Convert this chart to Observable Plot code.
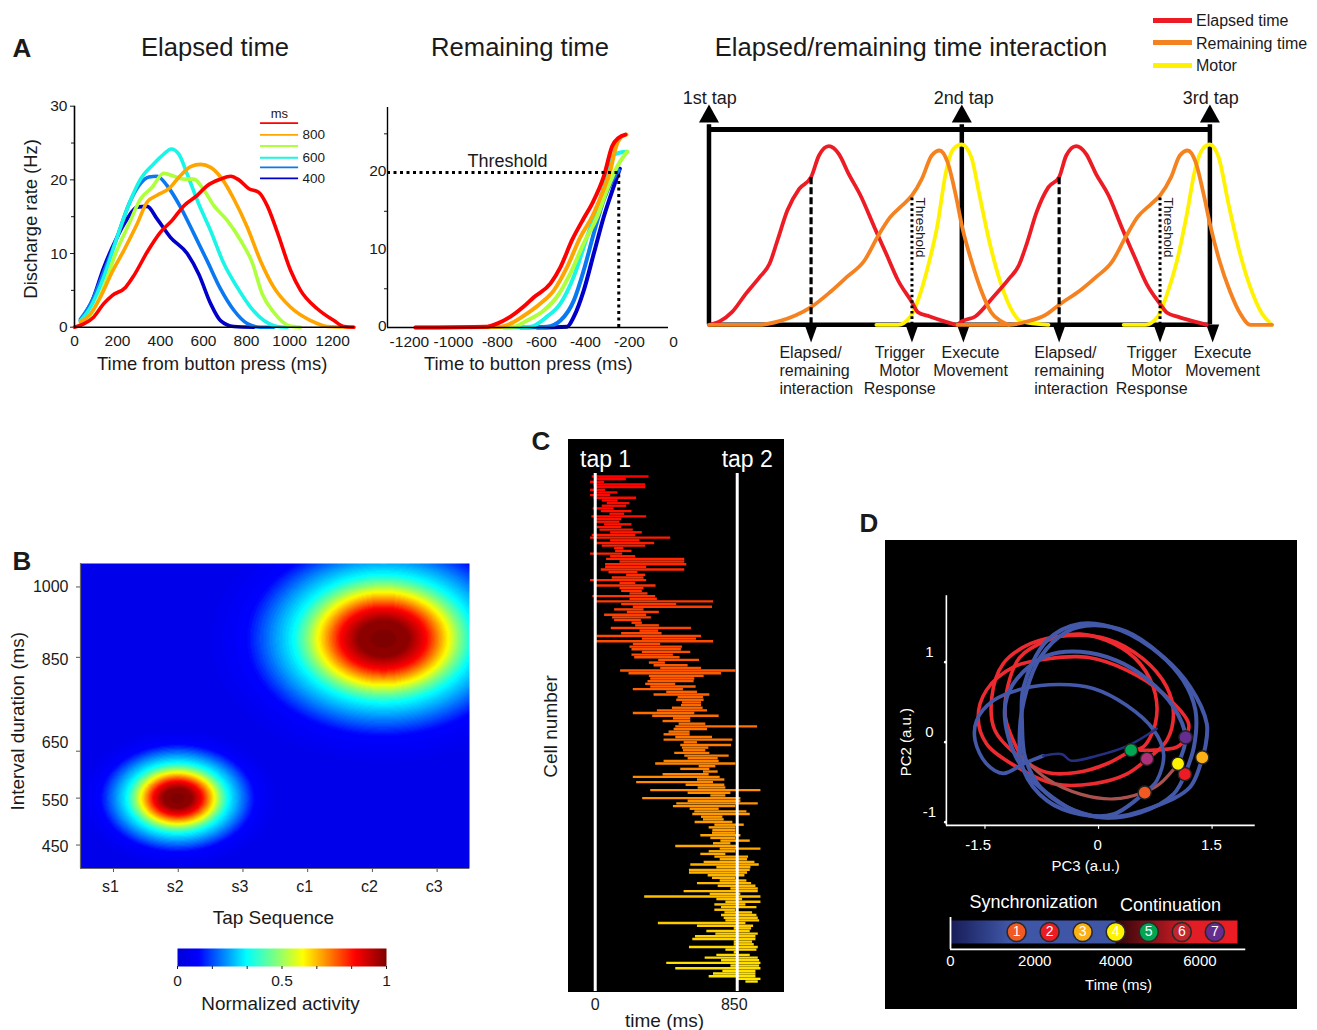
<!DOCTYPE html>
<html><head><meta charset="utf-8">
<script src="https://cdn.jsdelivr.net/npm/d3@7"></script>
<script src="https://cdn.jsdelivr.net/npm/@observablehq/plot@0.6"></script>
<style>
html,body{margin:0;padding:0;background:#fff}
#root{position:relative;width:1317px;height:1030px;overflow:hidden;font-family:"Liberation Sans",Arial,sans-serif;color:#1a1a1a}
.t{position:absolute;white-space:nowrap;transform:translate(-50%,-50%)}
.l{position:absolute;white-space:nowrap;transform:translateY(-50%)}
</style></head><body><div id="root"></div>
<script>
// ---------- Panel A, elapsed time: [ms, Hz]
const elapsedRed=[[0,0],[43,.45],[90,1.4],[136,3.2],[175,4.3],[237,5.4],[276,7],[338,10.2],[400,12.9],[454,14.5],[509,16.5],[571,17.9],[617,19.2],[679,20.1],[726,20.5],[764,20],[811,18.8],[857,18.3],[896,16.5],[943,12.9],[1005,7.7],[1051,5],[1129,2.5],[1206,.9],[1253,.1],[1299,0]];
const elapsedOrange=[[28,.7],[74,1.8],[121,4.1],[175,7.5],[229,10.4],[291,14],[338,17],[384,17.9],[439,18.8],[493,20.6],[540,21.8],[586,22.1],[633,21.7],[687,20.1],[741,17.4],[803,13.6],[865,9],[927,5.4],[1005,2.7],[1098,.9],[1175,.1],[1299,0]];
const elapsedGreen=[[28,.7],[82,2],[136,5.4],[191,10],[253,14],[307,17.4],[361,19],[415,20.9],[462,20.5],[509,20.1],[555,20.1],[602,18.6],[648,16.5],[710,14.5],[772,11.8],[826,8.8],[873,4.5],[927,2],[997,.2],[1051,0]];
const elapsedCyan=[[28,.9],[74,2.7],[136,6.8],[198,12.2],[260,17.2],[307,20.1],[369,22.2],[415,23.5],[450,24.2],[485,23.5],[524,20.8],[571,17.2],[633,13.1],[695,8.6],[757,5.4],[819,2.7],[881,.9],[943,.1],[990,0]];
const elapsedBlue=[[28,1.1],[82,3.6],[136,7.5],[198,12.2],[253,16.7],[299,19.2],[346,20.4],[384,20.5],[431,19.2],[493,16.3],[555,12.7],[617,9],[679,5.2],[741,2.3],[803,.5],[865,0],[927,0]];
const elapsedNavy=[[28,.9],[82,3.6],[136,8.1],[191,11.8],[245,14.7],[291,16.3],[338,16.4],[384,14.7],[446,12.2],[524,10],[578,7.2],[633,3.2],[679,.9],[741,.1],[834,0]];
// Panel A, remaining time: [ms, Hz]
const remainRed=[[-1159,0],[-833,.1],[-788,.5],[-727,1.4],[-667,2.7],[-621,3.9],[-545,5.7],[-500,7.8],[-447,11.3],[-394,14.1],[-356,16],[-303,19.5],[-265,23.4],[-235,24.5],[-205,24.9]];
const remainOrange=[[-1159,0],[-773,.1],[-712,.7],[-652,1.8],[-591,3.1],[-530,4.8],[-470,7.8],[-409,11.7],[-356,14.3],[-311,17.3],[-273,20.3],[-250,23.1],[-227,24.5],[-200,24.9]];
const remainGreen=[[-909,0],[-712,.1],[-652,.9],[-576,2.2],[-515,4],[-455,7],[-394,10.9],[-333,14.3],[-288,17.8],[-242,20.8],[-197,22.7]];
const remainCyan=[[-758,0],[-636,.1],[-561,1.4],[-500,3.1],[-439,6.6],[-379,11.7],[-326,16],[-288,19.5],[-258,22.3],[-227,22.6],[-197,22.7]];
const remainBlue=[[-682,0],[-561,.1],[-500,.9],[-439,3.5],[-394,7.4],[-348,12.2],[-303,16.5],[-265,19],[-235,20.3]];
const remainNavy=[[-606,0],[-470,.1],[-439,1.4],[-394,4.8],[-348,9.6],[-303,14.3],[-258,18.2],[-230,20.5]];
const durationColors=["#ff0000","#ffa500","#aeff3c","#19f5e6","#0a78f0","#0000c8"];
const durationLabels=["","800","","600","","400"];
const legendRowsHz=[27.7,26.1,24.6,23,21.7,20.2];
// Panel A, schematic: [time, activity] in arbitrary units
const red1=[[0,0],[28,11],[58,38],[93,93],[128,143],[153,183],[173,253],[198,343],[228,408],[258,443],[278,508],[303,536],[328,513],[353,453],[383,388],[418,293],[448,213],[478,133],[513,68],[528,38],[558,25],[593,11],[623,0]];
const red2=[[628,0],[640,11],[673,25],[718,83],[758,138],[783,178],[803,243],[828,338],[858,413],[885,443],[903,508],[928,536],[953,513],[978,453],[1010,388],[1043,293],[1076,203],[1106,123],[1140,63],[1158,36],[1188,23],[1223,11],[1258,0]];
const orange1=[[0,0],[128,0],[178,11],[218,28],[258,53],[308,100],[348,143],[393,193],[428,268],[458,323],[488,358],[513,388],[538,438],[563,508],[583,523],[603,488],[623,393],[640,293],[663,193],[688,103],[713,38],[738,11],[758,0]];
const orange2=[[628,0],[758,0],[808,11],[848,28],[888,63],[938,103],[978,143],[1018,188],[1053,263],[1083,323],[1118,363],[1140,388],[1168,443],[1190,508],[1210,523],[1230,488],[1250,393],[1268,293],[1290,193],[1316,103],[1343,33],[1368,0],[1423,0]];
const yellow1=[[423,0],[478,0],[508,23],[528,73],[553,173],[578,303],[598,453],[618,528],[639,541],[663,503],[683,393],[708,253],[738,123],[768,38],[788,11],[858,0]];
const yellow2=[[1048,0],[1103,0],[1133,23],[1158,93],[1183,193],[1208,333],[1228,463],[1248,528],[1266,541],[1288,503],[1313,363],[1338,233],[1368,113],[1398,33],[1423,0]];
const tapTimes=[0,639,1266];
const tapNames=["1st tap","2nd tap","3rd tap"];
const tapLabelTimes=[2,644,1268];
const downArrowTimes=[258,513,643,885,1140,1273];
const dashedTimes=[258,885];
const dottedTimes=[513,1140];
const leftLabels=[
 {t:178,a:-83,s:"Elapsed/"},{t:178,a:-137,s:"remaining"},{t:178,a:-191,s:"interaction"},
 {t:822,a:-83,s:"Elapsed/"},{t:822,a:-137,s:"remaining"},{t:822,a:-191,s:"interaction"}];
const midLabels=[
 {t:482,a:-83,s:"Trigger"},{t:482,a:-137,s:"Motor"},{t:482,a:-191,s:"Response"},
 {t:661,a:-83,s:"Execute"},{t:661,a:-137,s:"Movement"},
 {t:1119,a:-83,s:"Trigger"},{t:1119,a:-137,s:"Motor"},{t:1119,a:-191,s:"Response"},
 {t:1298,a:-83,s:"Execute"},{t:1298,a:-137,s:"Movement"}];
const mechanismNames=["Elapsed time","Remaining time","Motor"];
const mechanismColors=["#ed1c24","#f58220","#fff200"];
// ---------- Panel B
const tapSequence=["s1","s2","s3","c1","c2","c3"];
const intervalTicks=[450,550,650,850,1000];
const intervalLabelAt=[446,544,667,844,1000];
const peakCenterTap=[1.99,5.17], peakCenterMs=[550,890], peakWidthTap=[.567,1.005], peakWidthMs=[54.6,99];
const ringRadius=[0,.38,.66,1,1.17,1.38,2.1,2.7];   // measured ring sizes, relative to the yellow ring
const ringValue=[1,.985,.85,.6,.47,.33,.1,.05];
const jetDomain=[0,.1,.33,.47,.6,.85,1];
const jetRange=["#0000d8","#0000ff","#00ffff","#7fff7f","#ffff00","#ff0000","#7f0000"];
// ---------- Panel C: firing period of each cell, ms after tap 1
const cellStart=[-18,2,-28,-8,2,-28,2,-28,-8,42,72,42,-12,36,88,-20,2,8,56,12,28,92,-18,-28,92,8,42,116,122,-28,92,68,148,62,62,36,82,188,102,-28,148,8,148,158,208,-14,208,8,158,228,116,192,56,104,116,220,242,96,268,158,12,282,8,228,208,220,282,220,236,380,324,352,392,152,202,324,332,316,302,332,228,428,352,496,488,522,516,462,372,228,344,468,406,502,482,472,442,
412,482,412,532,512,522,528,476,536,556,412,362,622,512,648,406,228,612,248,544,616,332,556,692,284,556,488,468,568,596,584,636,648,598,716,682,704,702,632,692,752,708,482,748,682,632,716,748,652,572,728,564,564,676,702,748,612,736,812,532,688,296,728,782,716,756,716,776,756,772,782,378,612,832,668,722,600,584,832,832,564,782,832,728,658,756,428,812,482,764,708,682,852,902];
const cellEnd=[322,186,56,302,302,62,136,92,248,136,208,188,112,220,176,308,158,148,220,158,228,282,242,452,268,356,302,172,220,164,242,536,536,548,308,536,256,302,292,308,242,364,292,282,316,362,372,708,488,702,292,384,308,336,276,282,384,576,380,400,636,606,708,392,522,516,572,468,508,624,420,556,636,842,756,652,596,592,482,604,528,612,686,648,652,636,636,646,672,596,742,572,572,662,972,672,568,
568,702,824,612,816,680,662,686,802,736,742,842,722,686,736,682,748,776,708,776,782,992,812,782,872,872,976,842,742,908,928,764,772,824,892,842,842,842,872,842,928,812,848,992,842,782,918,912,956,982,932,928,912,896,842,908,936,962,976,976,872,992,882,992,902,968,842,942,968,976,984,902,948,936,928,976,962,962,942,952,976,968,862,928,976,984,992,984,992,962,962,962,992,976];
const tapMs=[0,850];
const tapMsLabelAt=[0,832];
// ---------- Panel D: [PC3, PC2]
const navyStart=[[.77,.17],[.40,-.04],[-.02,-.17],[-.37,-.23],[-.48,-.15],[-.73,-.17]];
const blueA=[[-.73,-.17],[-.99,-.27],[-1.26,-.39],[-1.48,-.27],[-1.63,.02],[-1.61,.27],[-1.39,.52],[-.99,.67],[-.51,.72],[-.07,.67],[.37,.46],[.73,.15],[.86,-.15],[.77,-.48],[.61,-.63]];
const blueB=[[.61,-.63],[.20,-.90],[-.24,-.90],[-.68,-.73],[-.99,-.35],[-1.04,.15],[-.95,.65],[-.77,1.06],[-.42,1.38],[-.07,1.46],[.37,1.38],[.81,1.10],[1.12,.77],[1.28,.40],[1.26,-.06],[1.14,-.40]];
const blueC=[[1.14,-.40],[.99,-.65],[.55,-.88],[.02,-.94],[-.42,-.81],[-.77,-.56],[-.97,-.19],[-1.01,.23],[-.99,.69],[-.68,1.27],[-.24,1.48],[.29,1.40],[.86,1.06],[1.21,.69],[1.43,.23],[1.41,-.06],[1.37,-.19]];
const blueD=[[1.37,-.19],[1.21,-.56],[.73,-.81],[.15,-.94],[-.33,-.85],[-.73,-.60],[-.95,-.40],[-1.19,.06],[-1.23,.48],[-1.08,.79],[-.68,1.08],[-.24,1.13],[.24,1.02],[.64,.79],[.99,.44],[1.15,.06],[1.05,-.27]];
const brownE=[[1.05,-.27],[.81,-.52],[.59,-.63],[.20,-.71],[-.24,-.65],[-.68,-.46],[-1.04,-.15]];
const redE=[[-1.04,-.15],[-1.23,.31],[-1.19,.73],[-1.04,1.06],[-.68,1.27],[-.24,1.35],[.20,1.23],[.55,.98],[.75,.60],[.75,.23],[.59,-.06],[.43,-.10]];
const redF=[[.43,-.10],[.11,-.27],[-.29,-.38],[-.68,-.38],[-1.04,-.19],[-1.37,.15],[-1.41,.56],[-1.26,.98],[-.90,1.23],[-.42,1.33],[.11,1.29],[.59,1.04],[.90,.69],[.99,.35],[.90,.02],[.64,-.21]];
const redG=[[.64,-.21],[.37,-.40],[-.07,-.52],[-.59,-.52],[-1.08,-.31],[-1.48,-.02],[-1.59,.31],[-1.48,.65],[-1.12,.94],[-.68,1.04],[-.15,1.06],[.37,.90],[.86,.60],[1.19,.23],[1.15,.06],[1.04,-.06],[.73,-.10],[.55,-.10]];
const tapDotPC3=[.61,1.14,1.37,1.05,.43,.64,1.15];
const tapDotPC2=[-.63,-.40,-.19,-.27,-.10,-.21,.06];
const tapDotColors=["#f15a22","#ed1c24","#fbb016","#fff200","#00a651","#b0307a","#662d91"];
const tapBarColors=["#f15a22","#ed1c24","#fbb016","#fff200","#00a651","#c1272d","#662d91"];
const tapDotMs=[1600,2400,3200,4000,4800,5600,6400];
const timeTicks=[0,2000,4000,6000];
const timeLabelAt=[0,2040,4000,6040];
const pc3Ticks=[-1.5,0,1.5];
const pc3LabelAt=[-1.59,-.01,1.49];

// ---------- helpers
const root=document.getElementById("root");
const FONT='"Liberation Sans",Arial,sans-serif';
function place(opts,left,top){
  const p=Plot.plot({...opts,style:{position:"absolute",left:left+"px",top:top+"px",fontFamily:FONT,background:"transparent",overflow:"visible",color:"#1a1a1a",maxWidth:"none"}});
  root.appendChild(p);return p;
}
function label(s,x,y,size,extra={},cls="t"){
  const d=document.createElement("div");d.className=cls;d.textContent=s;
  Object.assign(d.style,{left:x+"px",top:y+"px",fontSize:size+"px"},extra);root.appendChild(d);
}
const curve=(arr,stroke,w)=>Plot.line(arr,{x:d=>d[0],y:d=>d[1],stroke,strokeWidth:w,curve:"monotone-x"});
const path=(arr,stroke,w)=>Plot.line(arr,{x:d=>d[0],y:d=>d[1],stroke,strokeWidth:w,curve:"catmull-rom"});
const INK="#1a1a1a";

// titles
label("A",22,48,26,{fontWeight:"bold"});
label("B",22,561,26,{fontWeight:"bold"});
label("C",541,441,26,{fontWeight:"bold"});
label("D",869,523,26,{fontWeight:"bold"});
label("Elapsed time",215,47,25.6);
label("Remaining time",520,47,25.6);
label("Elapsed/remaining time interaction",911,47,25.6);
mechanismNames.forEach((s,i)=>{
  const y=[20,42.5,65][i];
  const b=document.createElement("div");
  Object.assign(b.style,{position:"absolute",left:"1153px",top:(y-2.5)+"px",width:"39px",height:"5px",background:mechanismColors[i]});
  root.appendChild(b);
  label(s,1196,y+1,16,{},"l");
});

// A1
const elapsedSeries=[elapsedNavy,elapsedBlue,elapsedCyan,elapsedGreen,elapsedOrange,elapsedRed];
const seriesColorsReversed=[...durationColors].reverse();
place({width:370,height:290,marginLeft:74,marginTop:15.7,marginBottom:53.3,marginRight:16,
  x:{domain:[0,1302]},y:{domain:[0,30]},
  marks:[
    Plot.axisX({ticks:[0,200,400,600,800,1000,1200],tickSize:0,tickPadding:8,label:null,fontSize:15.5,tickFormat:d=>String(d)}),
    Plot.axisY({ticks:[0,10,20,30],tickSize:4,tickPadding:3,label:null,fontSize:15.5,tickFormat:d=>String(d)}),
    Plot.axisY({ticks:[5,15,25],tickSize:3,text:null,label:null}),
    ...elapsedSeries.map((s,i)=>curve(s,seriesColorsReversed[i],3.6)),
    Plot.ruleX([0],{stroke:"#000",strokeWidth:1.6}),
    Plot.ruleY([0],{stroke:"#000",strokeWidth:1.6}),
    Plot.ruleY(legendRowsHz,{x1:865,x2:1042,stroke:(d,i)=>durationColors[i],strokeWidth:1.8}),
    Plot.text(durationLabels,{filter:d=>d!=="",x:1060,y:(d,i)=>legendRowsHz[i],text:d=>d,textAnchor:"start",fontSize:13.5,fill:INK}),
    Plot.text(["ms"],{x:953,y:29,fontSize:13,fill:INK}),
    Plot.text(["Time from button press (ms)"],{x:640,y:0,dy:37,fontSize:18.4,fill:INK}),
    Plot.text(["Discharge rate (Hz)"],{x:0,y:14.7,dx:-43,rotate:-90,fontSize:18.4,fill:INK})
  ]},0,90);

// A2
const remainSeries=[remainNavy,remainBlue,remainCyan,remainGreen,remainOrange,remainRed];
place({width:320,height:290,marginLeft:17,marginTop:17,marginBottom:53,marginRight:22,
  x:{domain:[-1286,-9],axis:null},y:{domain:[0,28.4]},
  marks:[
    Plot.axisY({ticks:[0,10,20],tickSize:0,tickPadding:1,dy:-1.5,label:null,fontSize:15.5,tickFormat:d=>String(d)}),
    Plot.axisY({ticks:[5,15,25],tickSize:3,text:null,label:null}),
    Plot.text([-1200,-1000,-800,-600,-400,-200,0],{x:d=>d,y:0,dy:15,dx:3,text:d=>String(d),fontSize:15.5,fill:INK}),
    ...remainSeries.map((s,i)=>curve(s,seriesColorsReversed[i],4)),
    Plot.ruleX([-1286],{stroke:"#000",strokeWidth:1.4}),
    Plot.ruleY([0],{stroke:"#000",strokeWidth:1.4}),
    Plot.ruleY([20],{x1:-1286,x2:-235,stroke:"#000",strokeWidth:3,strokeDasharray:"3 3.5"}),
    Plot.ruleX([-235],{y1:0,y2:20,stroke:"#000",strokeWidth:3,strokeDasharray:"3 3.5"}),
    Plot.text(["Threshold"],{x:-741,y:21.5,fontSize:18,fill:INK}),
    Plot.text(["Time to button press (ms)"],{x:-646,y:0,dy:37,fontSize:18.4,fill:INK})
  ]},370,90);

// A3
const upSym={draw(c){c.moveTo(0,-12);c.lineTo(10,6);c.lineTo(-10,6);c.closePath();}};
const downSym={draw(c){c.moveTo(-6.5,-8);c.lineTo(6.5,-8);c.lineTo(0,10);c.closePath();}};
place({width:620,height:320,margin:0,
  x:{domain:[-72,1495],axis:null},y:{domain:[-227,733],axis:null},
  marks:[
    Plot.ruleX(tapTimes,{y1:0,y2:600,stroke:"#000",strokeWidth:4.5}),
    Plot.ruleY([586],{x1:0,x2:1266,stroke:"#000",strokeWidth:5}),
    Plot.ruleY([0],{x1:0,x2:1266,stroke:"#000",strokeWidth:4.5}),
    Plot.dot(tapTimes,{x:d=>d,y:625,symbol:upSym,fill:"#000",stroke:"none"}),
    Plot.dot(downArrowTimes,{x:d=>d,y:-23,symbol:downSym,fill:"#000",stroke:"none"}),
    curve(yellow1,"#fff200",3.8),curve(yellow2,"#fff200",3.8),
    curve(red1,"#ed1c24",3.8),curve(red2,"#ed1c24",3.8),
    curve(orange1,"#f58220",3.8),curve(orange2,"#f58220",3.8),
    Plot.ruleX(dashedTimes,{y1:0,y2:443,stroke:"#000",strokeWidth:3.2,strokeDasharray:"7 3"}),
    Plot.ruleX(dottedTimes,{y1:0,y2:385,stroke:"#000",strokeWidth:3,strokeDasharray:"2.6 2.8"}),
    Plot.text(dottedTimes,{x:d=>d,y:292,dx:8,rotate:90,text:()=>"Threshold",fontSize:13.5,fill:INK}),
    Plot.text(tapNames,{x:(d,i)=>tapLabelTimes[i],y:679,text:d=>d,fontSize:18,fill:INK}),
    Plot.text(leftLabels,{x:"t",y:"a",text:"s",textAnchor:"start",fontSize:16,fill:INK}),
    Plot.text(midLabels,{x:"t",y:"a",text:"s",fontSize:16,fill:INK})
  ]},680,80);

// B heat map
const ringLookup=d3.scaleLinear().domain(ringRadius).range(ringValue).clamp(true);
const activity=(x,y)=>{
  let v=0;
  peakCenterTap.forEach((cx,i)=>{
    const r=Math.hypot((x-cx)/peakWidthTap[i],(y-peakCenterMs[i])/peakWidthMs[i]);
    v=Math.max(v,ringLookup(r));
  });
  return Math.round(v*64)/64;
};
place({width:490,height:360,marginLeft:80,marginTop:13,marginBottom:42,marginRight:21,
  x:{domain:[.49,6.5]},y:{domain:[400,1050]},
  color:{type:"linear",domain:jetDomain,range:jetRange,interpolate:"rgb"},
  marks:[
    Plot.raster({fill:activity,x1:.49,x2:6.5,y1:400,y2:1050}),
    Plot.axisY({ticks:intervalTicks,tickSize:4,text:null,label:null,stroke:"#555"}),
    Plot.text(intervalTicks,{x:.49,y:(d,i)=>intervalLabelAt[i],dx:-12,textAnchor:"end",text:d=>String(d),fontSize:16,fill:INK}),
    Plot.axisX({ticks:[1,2,3,4,5,6],tickSize:4,text:null,label:null,stroke:"#555"}),
    Plot.axisX({ticks:[1,2,3,4,5,6],tickSize:0,tickPadding:12,dx:-3,label:null,fontSize:16,tickFormat:d=>tapSequence[d-1]}),
    Plot.ruleX([.49],{stroke:"#666",strokeWidth:1.2}),
    Plot.ruleY([400],{stroke:"#666",strokeWidth:1.2}),
    Plot.text(["Tap Sequence"],{x:3.47,y:400,dy:49,fontSize:19,fill:INK}),
    Plot.text(["Interval duration (ms)"],{x:.49,y:714,dx:-63,rotate:-90,fontSize:18.9,fill:INK})
  ]},0,550);

// B colour bar
place({width:270,height:75,marginLeft:27,marginTop:8,marginBottom:49,marginRight:34,
  x:{domain:[0,1]},y:{domain:[0,1],axis:null},
  color:{type:"linear",domain:jetDomain,range:jetRange,interpolate:"rgb"},
  marks:[
    Plot.raster({fill:(x,y)=>x,x1:0,x2:1,y1:0,y2:1}),
    Plot.axisX({ticks:[0,1/6,2/6,3/6,4/6,5/6,1],tickSize:3,text:null,label:null}),
    Plot.axisX({ticks:[0,.5,1],tickSize:0,tickPadding:8,label:null,fontSize:15.5,tickFormat:d=>String(d)}),
    Plot.text(["Normalized activity"],{x:.493,y:0,dy:37,fontSize:18.9,fill:INK})
  ]},150,940);

// C raster of cells
const rows=cellStart.map((s,i)=>({row:i,start:s,end:cellEnd[i]}));
const nRows=rows.length, pxPerRow=505/(nRows-1);
place({width:253,height:591,marginLeft:38,marginRight:0,marginTop:0,marginBottom:39,
  x:{domain:[-160,1127],axis:null},y:{domain:[-37/pxPerRow,nRows-1+10/pxPerRow],reverse:true,axis:null},
  color:{type:"linear",domain:[0,nRows-1],range:["#ff0000","#ffe600"],interpolate:"rgb"},
  marks:[
    Plot.frame({fill:"#000",stroke:"#000"}),
    Plot.ruleY(rows,{y:"row",x1:"start",x2:"end",stroke:"row",strokeWidth:2.4}),
    Plot.ruleX(tapMs,{y1:-3/pxPerRow,y2:nRows-1+10/pxPerRow,stroke:"#fff",strokeWidth:3}),
    Plot.text(["tap 1","tap 2"],{x:(d,i)=>[62,910][i],y:-17/pxPerRow,text:d=>d,fontSize:23,fill:"#fff"}),
    Plot.text(tapMs,{x:(d,i)=>tapMsLabelAt[i],y:nRows-1+10/pxPerRow,dy:13,text:d=>String(d),fontSize:16,fill:INK}),
    Plot.text(["time (ms)"],{x:415,y:nRows-1+10/pxPerRow,dy:29,fontSize:19,fill:INK}),
    Plot.text(["Cell number"],{x:-160,y:(726-476)/pxPerRow,dx:-18,rotate:-90,fontSize:19,fill:INK})
  ]},530,439);

// D trajectories
place({width:411,height:340,margin:0,
  x:{domain:[-2.814,2.615],axis:null},y:{domain:[-1.729,2.52],axis:null},
  marks:[
    Plot.frame({fill:"#000",stroke:"#000"}),
    Plot.ruleX([-2.01],{y1:-1.04,y2:1.83,stroke:"#fff",strokeWidth:1.6}),
    Plot.ruleY([-1.04],{x1:-2.01,x2:2.07,stroke:"#fff",strokeWidth:1.6}),
    Plot.ruleX(pc3Ticks,{y1:-1.04,y2:-1.09,stroke:"#fff",strokeWidth:1.2}),
    Plot.text(pc3Ticks,{x:(d,i)=>pc3LabelAt[i],y:-1.04,dy:20,text:d=>String(d),fontSize:15,fill:"#fff"}),
    Plot.text([1,0,-1],{x:-2.01,y:d=>d,dx:-17,dy:-10,text:d=>String(d),fontSize:15,fill:"#fff"}),
    Plot.dot([1,0,-1],{x:-2.01,y:d=>d,r:1.4,fill:"#fff",stroke:"none",dx:-1}),
    Plot.text(["PC3 (a.u.)"],{x:-.17,y:-1.04,dy:41,fontSize:15,fill:"#fff"}),
    Plot.text(["PC2 (a.u.)"],{x:-2.01,y:0,dx:-40,rotate:-90,fontSize:15,fill:"#fff"}),
    path(redG,"#ed2a30",3.6),path(redF,"#ed2a30",3.6),path(redE,"#ed2a30",3.6),
    path(brownE,"#a9524f",3.2),
    path(blueD,"#4358a8",4),path(blueC,"#4358a8",4),path(blueB,"#4358a8",4),path(blueA,"#4358a8",3.6),
    path(navyStart,"#26307f",2.6),
    Plot.dot(tapDotPC3,{x:d=>d,y:(d,i)=>tapDotPC2[i],r:6.6,fill:(d,i)=>tapDotColors[i],stroke:"#222",strokeWidth:1.4})
  ]},885,540);

// D time bar
place({width:411,height:128,margin:0,
  x:{domain:[-1574,8378],axis:null},y:{domain:[-2.83,2.74],axis:null},
  color:{type:"linear",domain:[0,1400,4000,4001,5800,6950],range:["#171c58","#3f56a6","#3f56a6","#30060a","#e01d26","#ed1c24"],interpolate:"rgb"},
  marks:[
    Plot.frame({fill:"#000",stroke:"#000"}),
    Plot.raster({fill:(x,y)=>x,x1:0,x2:6950,y1:0,y2:1}),
    Plot.ruleX([0],{y1:-.26,y2:1.13,stroke:"#fff",strokeWidth:1.8}),
    Plot.ruleY([-.26],{x1:0,x2:7150,stroke:"#fff",strokeWidth:1.8}),
    Plot.dot(tapDotMs,{x:d=>d,y:.5,r:9.5,fill:(d,i)=>tapBarColors[i],stroke:"#2a2a2a",strokeWidth:1.6}),
    Plot.text(tapDotMs,{x:d=>d,y:.5,text:(d,i)=>String(i+1),fontSize:14,fill:"#fff"}),
    Plot.text(timeTicks,{x:(d,i)=>timeLabelAt[i],y:-.26,dy:12,text:d=>String(d),fontSize:15,fill:"#fff"}),
    Plot.text(["Time (ms)"],{x:4068,y:-1.83,fontSize:15,fill:"#fff"}),
    Plot.text(["Synchronization"],{x:2010,y:1.78,fontSize:18,fill:"#fff"}),
    Plot.text(["Continuation"],{x:5327,y:1.65,fontSize:18,fill:"#fff"})
  ]},885,880);
</script></body></html>
